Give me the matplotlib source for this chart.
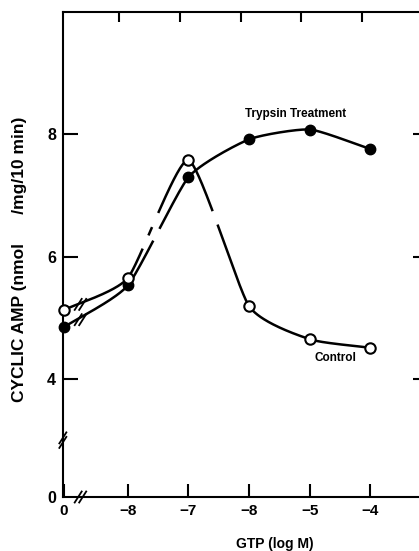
import numpy as np
import matplotlib
matplotlib.use("Agg")
import matplotlib.pyplot as plt
from matplotlib.lines import Line2D

plt.rcParams['font.family'] = ['Liberation Sans', 'DejaVu Sans']
plt.rcParams['font.weight'] = 'bold'

# data (x: "0" then log M)
x_labels = ["0", "\u22128", "\u22127", "\u22128", "\u22125", "\u22124"]
x_pos = [-9.05, -8, -7, -6, -5, -4]
control = [5.13, 5.65, 7.58, 5.19, 4.65, 4.51]
trypsin = [4.85, 5.53, 7.30, 7.92, 8.08, 7.76]
y_ticks = [2.07, 4, 6, 8]
y_labels = ["0", "4", "6", "8"]

# little breaks in the printed lines (x ranges)
control_gaps = [(-7.74, -7.67), (-7.59, -7.51), (-6.59, -6.535)]
trypsin_gaps = [(-7.56, -7.48)]


def smooth(xs, ys, s=0.55, n=60):
    # cardinal spline through the points (drawing only), s = tangent scale
    P = np.column_stack([xs, ys]).astype(float)
    P = np.vstack([2 * P[0] - P[1], P, 2 * P[-1] - P[-2]])
    t = np.linspace(0, 1, n, endpoint=False)[:, None]
    h00 = 2 * t**3 - 3 * t**2 + 1
    h10 = t**3 - 2 * t**2 + t
    h01 = -2 * t**3 + 3 * t**2
    h11 = t**3 - t**2
    out = []
    for i in range(1, len(P) - 2):
        m0 = s * (P[i + 1] - P[i - 1]) / 2
        m1 = s * (P[i + 2] - P[i]) / 2
        out.append(h00 * P[i] + h10 * m0 + h01 * P[i + 1] + h11 * m1)
    out.append(P[-2][None, :])
    c = np.vstack(out)
    return c[:, 0], c[:, 1]


def curve(xs, ys, gaps):
    sx, sy = smooth(xs, ys)
    sy = sy.copy()
    for a, b in gaps:
        sy[(sx > a) & (sx < b)] = np.nan
    ax.plot(sx, sy, color='black', lw=1.8, zorder=2, solid_capstyle='butt')


fig = plt.figure(figsize=(4.19, 5.51), dpi=100)
ax = fig.add_axes([0.150, 0.098, 0.850, 0.880])
ax.set_xlim(-9.07, -3.2)
ax.set_ylim(2.07, 10.0)

curve(x_pos, trypsin, trypsin_gaps)
curve(x_pos, control, control_gaps)

ax.plot(x_pos, trypsin, 'o', color='black', ms=7.5, zorder=3, clip_on=False)
ax.plot(x_pos, control, 'o', mfc='white', mec='black', mew=1.5, ms=7.5,
        zorder=4, clip_on=False)

ax.text(-5.24, 8.34, "Trypsin Treatment", fontsize=8.5, ha='center', va='center')
ax.text(-4.57, 4.34, "Control", fontsize=8.5, ha='center', va='center')

# spines and ticks
for s in ['left', 'bottom', 'top']:
    ax.spines[s].set_linewidth(1.5)
ax.spines['right'].set_visible(False)

ax.set_xticks(x_pos)
ax.set_xticklabels(x_labels, fontsize=11, fontweight='bold')
ax.set_yticks(y_ticks)
ax.set_yticklabels(y_labels, fontsize=11.5, fontweight='bold')
ax.tick_params(axis='x', which='major', direction='in', length=9.5, width=1.5,
               pad=5, top=False)
ax.tick_params(axis='y', which='major', direction='in', length=11, width=1.5,
               pad=5, right=True)
ax.xaxis.get_major_ticks()[0].tick1line.set_visible(False)
ax.yaxis.get_major_ticks()[0].tick1line.set_visible(False)
ax.yaxis.get_major_ticks()[0].tick2line.set_visible(False)
for t in ax.yaxis.get_major_ticks():
    t.tick2line.set_markersize(4.5)

# top ticks sit a little left of the bottom ones in the scan
top = ax.twiny()
top.set_xlim(ax.get_xlim())
top.set_xticks([p - 0.14 for p in x_pos[1:]])
top.set_xticklabels([])
top.tick_params(axis='x', direction='in', length=7, width=1.5)
for s in top.spines.values():
    s.set_visible(False)

ax.set_xlabel("GTP (log M)", fontsize=10, fontweight='bold')
ax.xaxis.set_label_coords(0.595, -0.082)
ax.set_ylabel("CYCLIC AMP (nmol      /mg/10 min)", fontsize=12.5,
              fontweight='bold')
ax.yaxis.set_label_coords(-0.10, 0.49)


# axis / curve break marks "//"
def brk(x, y, dx=3.5, dy=5.5, gap=4.5, vertical=False):
    p = ax.transData.transform((x, y))
    inv = fig.transFigure.inverted()
    for k in (-0.5, 0.5):
        if vertical:
            c = p + np.array([0, k * gap])
        else:
            c = p + np.array([k * gap, 0])
        a = inv.transform(c + [-dx, -dy])
        b = inv.transform(c + [dx, dy])
        fig.add_artist(Line2D([a[0], b[0]], [a[1], b[1]], color='black', lw=1.3))


brk(-8.78, 2.07)
brk(-9.07, 3.0, vertical=True)
brk(-8.78, 5.22)
brk(-8.78, 4.97)

fig.savefig("out.png", dpi=100)
